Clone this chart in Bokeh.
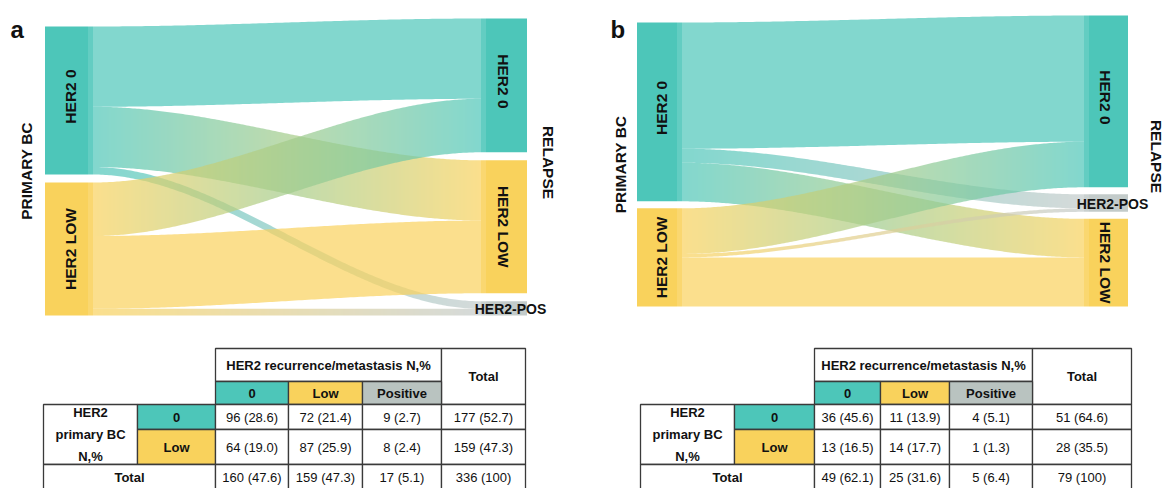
import numpy as np
from bokeh.plotting import figure
from bokeh.models import Range1d, ColumnDataSource
from bokeh.core.properties import value
from bokeh.embed import file_html
from bokeh.resources import INLINE

# ---------------- data ----------------
panel_letters = ["a", "b"]
primary_nodes = ["HER2 0", "HER2 LOW"]
relapse_nodes = ["HER2 0", "HER2 LOW", "HER2-POS"]
# flows: rows = primary (0, low), cols = relapse (0, low, pos)
flows_a = [[96, 72, 9], [64, 87, 8]]
flows_b = [[36, 11, 4], [13, 14, 1]]
relapse_order_a = [0, 1, 2]
relapse_order_b = [0, 2, 1]
pct_a = [[28.6, 21.4, 2.7], [19.0, 25.9, 2.4]]
row_tot_pct_a = [52.7, 47.3]
col_tot_pct_a = [47.6, 47.3, 5.1]
pct_b = [[45.6, 13.9, 5.1], [16.5, 17.7, 1.3]]
row_tot_pct_b = [64.6, 35.5]
col_tot_pct_b = [62.1, 31.6, 6.4]
grand_pct = [100, 100]
table_header = "HER2 recurrence/metastasis N,%"
col_labels = ["0", "Low", "Positive"]
row_labels = ["0", "Low"]
row_block_label = ["HER2", "primary BC", "N,%"]
total_label = "Total"
left_title = "PRIMARY BC"
right_title = "RELAPSE"

# ---------------- style / layout ----------------
TEAL = "#4DC6B9"
YELLOW = "#F9D25C"
GREY = "#C3CBCA"
TGREY = "#B9C3C0"
src_colors = [TEAL, YELLOW]
tgt_colors = [TEAL, YELLOW, GREY]
FONT = "Liberation Sans"
ALPHA = 0.7
PIX = 0.5   # pixel-boundary offset of the svg renderer

W, H = 1171, 488

lay_a = dict(lx0=45, lx1=93, rx0=481, rx1=527, bottom=315, gap=8, top=18,
             letter=(10, 29), ltitle=26, rtitle=(548, 162))
lay_b = dict(lx0=637, lx1=682, rx0=1084, rx1=1128, bottom=306, gap=7, top=15,
             letter=(610, 29), ltitle=620, rtitle=(1156, 156))
tab_a = dict(xe=[43, 137, 215, 288, 362, 441, 525], ye=[348, 381, 404, 429, 464, 491])
tab_b = dict(xe=[640, 734, 814, 880, 949, 1032, 1131], ye=[348, 381, 404, 429, 464, 491])
label_dy = {"HER2 0": -4}

p = figure(width=W, height=H, x_range=Range1d(0, W), y_range=Range1d(H, 0),
           output_backend="svg", toolbar_location=None, min_border=0,
           x_axis_location=None, y_axis_location=None)
p.grid.visible = False
p.outline_line_color = None
p.background_fill_color = "white"


def rgb(h):
    return np.array([int(h[i:i + 2], 16) for i in (1, 3, 5)], float)


def mix(c1, c2, t):
    c = rgb(c1) * (1 - t) + rgb(c2) * t
    return "#%02x%02x%02x" % tuple(int(round(v)) for v in c)


def smooth(s):
    return 3 * s ** 2 - 2 * s ** 3


texts = dict(x=[], y=[], t=[], a=[], s=[], st=[], al=[])


def add_text(x, y, t, size, style="bold", angle=0.0, align="center"):
    texts["x"].append(x); texts["y"].append(y); texts["t"].append(t)
    texts["a"].append(angle); texts["s"].append(size)
    texts["st"].append(style); texts["al"].append(align)


def sankey(flows, order, lay, letter):
    fl = np.array(flows, float)
    src_tot = fl.sum(1)
    tgt_tot = fl.sum(0)
    gap = lay["gap"]
    k = (lay["bottom"] - lay["top"] - gap * (len(order) - 1)) / tgt_tot.sum()
    y = lay["bottom"] - (tgt_tot.sum() * k + gap * (len(order) - 1))
    tgt_top = {}
    for j in order:
        tgt_top[j] = y
        y += tgt_tot[j] * k + gap
    y = lay["bottom"] - (src_tot.sum() * k + gap * (len(src_tot) - 1))
    src_top = {}
    for i in range(len(src_tot)):
        src_top[i] = y
        y += src_tot[i] * k + gap
    x0, x1 = lay["lx1"], lay["rx0"]
    links = [(i, j) for i in range(len(src_tot)) for j in order]
    src_off = dict(src_top)
    src_pos = {}
    for i, j in links:
        src_pos[(i, j)] = src_off[i]
        src_off[i] += fl[i, j] * k
    tgt_off = dict(tgt_top)
    tgt_pos = {}
    for j in order:
        for i in range(len(src_tot)):
            tgt_pos[(i, j)] = tgt_off[j]
            tgt_off[j] += fl[i, j] * k

    # links: single band for same-colour links, 2px gradient slices otherwise
    xs, ys, cs = [], [], []
    edges = np.concatenate([[x0], np.arange(x0 + 2, x1 - 1, 2), [x1]]).astype(float)
    for i, j in links:
        hgt = fl[i, j] * k
        ya, yb = src_pos[(i, j)], tgt_pos[(i, j)]
        c1, c2 = src_colors[i], tgt_colors[j]
        if c1 == c2:
            xx = np.linspace(x0, x1, 120)
            s = smooth((xx - x0) / (x1 - x0))
            top = ya + (yb - ya) * s
            xs.append(list(xx - PIX) + list(xx[::-1] - PIX))
            ys.append(list(top) + list((top + hgt)[::-1]))
            cs.append(c1)
        else:
            for a, b in zip(edges[:-1], edges[1:]):
                xx = np.array([a, b])
                s = smooth((xx - x0) / (x1 - x0))
                top = ya + (yb - ya) * s
                xs.append([a - PIX, b - PIX, b - PIX, a - PIX])
                ys.append([top[0], top[1], top[1] + hgt, top[0] + hgt])
                cs.append(mix(c1, c2, ((a + b) / 2 - x0) / (x1 - x0)))
    p.patches(xs="xs", ys="ys", fill_color="c", fill_alpha=ALPHA, line_color=None,
              source=ColumnDataSource(dict(xs=xs, ys=ys, c=cs)))

    # nodes (solid body + lighter 5px strip on the link side)
    L, R, T, B, C, A = [], [], [], [], [], []

    def node(xa, xb, t, b, c, a):
        L.append(xa - PIX); R.append(xb - PIX); T.append(t); B.append(b); C.append(c); A.append(a)

    for i in range(len(src_tot)):
        t, b = src_top[i], src_top[i] + src_tot[i] * k
        node(lay["lx0"], lay["lx1"] - 5, t, b, src_colors[i], 1.0)
        node(lay["lx1"] - 5, lay["lx1"], t, b, src_colors[i], 0.88)
        add_text((lay["lx0"] + lay["lx1"]) / 2 + 1, (t + b) / 2 + label_dy.get(primary_nodes[i], 0),
                 primary_nodes[i], "15.5px", angle=np.pi / 2)
    for j in order:
        t, b = tgt_top[j], tgt_top[j] + tgt_tot[j] * k
        node(lay["rx0"] + 5, lay["rx1"], t, b, tgt_colors[j], 1.0)
        node(lay["rx0"], lay["rx0"] + 5, t, b, tgt_colors[j], 0.88)
        cx = (lay["rx0"] + lay["rx1"]) / 2
        cy = (t + b) / 2
        if j == 2:
            add_text(cx + 6, cy + 1, relapse_nodes[j], "14px")
        else:
            add_text(cx - 1, cy + label_dy.get(relapse_nodes[j], 0), relapse_nodes[j], "15.5px",
                     angle=-np.pi / 2)
    p.quad(source=ColumnDataSource(dict(l=L, r=R, t=T, b=B, c=C, a=A)),
           left="l", right="r", top="t", bottom="b", fill_color="c", fill_alpha="a", line_color=None)

    # titles
    add_text(lay["ltitle"], lay["bottom"] - (src_tot.sum() * k + gap) / 2, left_title, "15.5px",
             angle=np.pi / 2)
    add_text(lay["rtitle"][0], lay["rtitle"][1], right_title, "15.5px", angle=-np.pi / 2)
    add_text(lay["letter"][0], lay["letter"][1], letter, "24px", align="left")


def table(flows, pct, rpct, cpct, gpct, tab):
    fl = np.array(flows)
    xe, ye = tab["xe"], tab["ye"]
    L, R, T, B, C = [], [], [], [], []

    def cell(x0, x1, y0, y1, col="white"):
        L.append(x0); R.append(x1); T.append(y0); B.append(y1); C.append(col)

    def fmt(n, pc):
        return "%d (%s)" % (n, ("%d" % pc) if pc == 100 else ("%.1f" % pc))

    TS = "13px"
    cell(xe[2], xe[5], ye[0], ye[1])
    add_text((xe[2] + xe[5]) / 2, (ye[0] + ye[1]) / 2, table_header, TS)
    cell(xe[5], xe[6], ye[0], ye[2])
    add_text((xe[5] + xe[6]) / 2, (ye[0] + ye[2]) / 2, total_label, TS)
    for j in range(3):
        cell(xe[2 + j], xe[3 + j], ye[1], ye[2], [TEAL, YELLOW, TGREY][j])
        add_text((xe[2 + j] + xe[3 + j]) / 2, (ye[1] + ye[2]) / 2, col_labels[j], TS)
    cell(xe[0], xe[1], ye[2], ye[4])
    cy = (ye[2] + ye[4]) / 2
    for n, t in enumerate(row_block_label):
        add_text((xe[0] + xe[1]) / 2, cy + (n - 1) * 22, t, TS)
    for i in range(2):
        cell(xe[1], xe[2], ye[2 + i], ye[3 + i], [TEAL, YELLOW][i])
        add_text((xe[1] + xe[2]) / 2, (ye[2 + i] + ye[3 + i]) / 2, row_labels[i], TS)
        for j in range(3):
            cell(xe[2 + j], xe[3 + j], ye[2 + i], ye[3 + i])
            add_text((xe[2 + j] + xe[3 + j]) / 2, (ye[2 + i] + ye[3 + i]) / 2,
                     fmt(fl[i, j], pct[i][j]), TS, style="normal")
        cell(xe[5], xe[6], ye[2 + i], ye[3 + i])
        add_text((xe[5] + xe[6]) / 2, (ye[2 + i] + ye[3 + i]) / 2,
                 fmt(fl[i].sum(), rpct[i]), TS, style="normal")
    cell(xe[0], xe[2], ye[4], ye[5])
    add_text((xe[0] + xe[2]) / 2, 477, total_label, TS)
    for j in range(3):
        cell(xe[2 + j], xe[3 + j], ye[4], ye[5])
        add_text((xe[2 + j] + xe[3 + j]) / 2, 477, fmt(fl[:, j].sum(), cpct[j]), TS, style="normal")
    cell(xe[5], xe[6], ye[4], ye[5])
    add_text((xe[5] + xe[6]) / 2, 477, fmt(fl.sum(), gpct), TS, style="normal")
    p.quad(left=L, right=R, top=T, bottom=B, fill_color=C, line_color="#3a3a3a", line_width=1.3)


sankey(flows_a, relapse_order_a, lay_a, panel_letters[0])
sankey(flows_b, relapse_order_b, lay_b, panel_letters[1])
table(flows_a, pct_a, row_tot_pct_a, col_tot_pct_a, grand_pct[0], tab_a)
table(flows_b, pct_b, row_tot_pct_b, col_tot_pct_b, grand_pct[1], tab_b)

keys = sorted(set(zip(texts["s"], texts["st"], texts["al"])))
for s, st, al in keys:
    idx = [n for n in range(len(texts["t"])) if (texts["s"][n], texts["st"][n], texts["al"][n]) == (s, st, al)]
    src = ColumnDataSource(dict(x=[texts["x"][n] for n in idx], y=[texts["y"][n] for n in idx],
                                t=[texts["t"][n] for n in idx], a=[texts["a"][n] for n in idx]))
    bl = "alphabetic" if s == "24px" else "middle"
    p.text(x="x", y="y", text="t", angle="a", source=src, text_font=value(FONT), text_font_size=s,
           text_font_style=st, text_align=al, text_baseline=bl, text_color="#111111")

open("out.html", "w").write(file_html(p, INLINE))
